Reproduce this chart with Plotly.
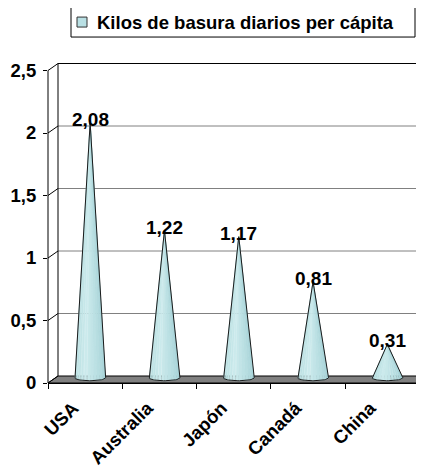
import numpy as np
import plotly.graph_objects as go

# ---------------- data ----------------
categories = ["USA", "Australia", "Japón", "Canadá", "China"]
kilos = [2.08, 1.22, 1.17, 0.81, 0.31]
y_tick_values = [0, 0.5, 1, 1.5, 2, 2.5]
y_tick_labels = ["0", "0,5", "1", "1,5", "2", "2,5"]
series_name = "Kilos de basura diarios per cápita"

# ---------------- layout constants ----------------
# the page body has an 8px margin, so the figure is placed at (8, 8)
OFF = 8
W, H = 424 - OFF, 468 - OFF
ML, MR, MT, MB = 48 - OFF, 0, 58 - OFF, 468 - 383.5
X_RANGE = [-0.5, 4.5606]
Y_RANGE = [0, 2.6]
plot_w = W - ML - MR
plot_h = H - MT - MB
px_x = plot_w / (X_RANGE[1] - X_RANGE[0])
px_y = plot_h / (Y_RANGE[1] - Y_RANGE[0])

DX = 10 / px_x          # depth of the 3D box (horizontal)
DY = 7 / px_y           # depth of the 3D box (vertical)
CONE_W = 15.5 / px_x    # half width of cone base
RY = 3 / px_y           # half height of base ellipse
BC = 5.25 / px_y        # base ellipse centre height

FONT = "Liberation Sans, Arial, sans-serif"
CONE_EDGE = (160, 207, 212)
CONE_LIGHT = (204, 235, 237)


def px2paper_x(p):
    # p in reference-page pixels
    return (p - OFF - ML) / plot_w


def px2paper_y(p):
    return (H - MB - (p - OFF)) / plot_h


fig = go.Figure()

# ---------------- cones (sliced for shading) ----------------
K = 14
for k in range(K):
    xs, ys = [], []
    for i, v in enumerate(kilos):
        cx = i + DX / 2
        t0 = np.pi + k * np.pi / K
        t1 = np.pi + (k + 1) * np.pi / K
        ts = np.linspace(t0, t1, 6)
        xs += [cx]
        ys += [v]
        xs += list(cx + CONE_W * np.cos(ts))
        ys += list(BC + RY * np.sin(ts))
        xs += [cx, None]
        ys += [v, None]
    pos = (k + 0.5) / K
    f = max(0.0, 1 - abs(pos - 0.4) / 0.6)
    col = tuple(int(CONE_EDGE[j] + (CONE_LIGHT[j] - CONE_EDGE[j]) * f) for j in range(3))
    c = "rgb(%d,%d,%d)" % col
    fig.add_trace(go.Scatter(x=xs, y=ys, mode="lines", fill="toself",
                             fillcolor=c, line=dict(color=c, width=0.6),
                             hoverinfo="skip", showlegend=False))

# outline
ox, oy = [], []
for i, v in enumerate(kilos):
    cx = i + DX / 2
    ts = np.linspace(np.pi, 2 * np.pi, 30)
    ox += [cx]
    oy += [v]
    ox += list(cx + CONE_W * np.cos(ts))
    oy += list(BC + RY * np.sin(ts))
    ox += [cx, None]
    oy += [v, None]
fig.add_trace(go.Scatter(x=ox, y=oy, mode="lines",
                         line=dict(color="#1a1a1a", width=1),
                         hoverinfo="skip", showlegend=False))

# ---------------- 3D box: floor, walls, gridlines ----------------
shapes = []
x_left = X_RANGE[0]
x_right = X_RANGE[1]
shapes.append(dict(type="path", xref="x", yref="y", layer="below",
                   path="M %f,%f L %f,%f L %f,%f L %f,%f Z" % (
                       x_left, 0, x_left + DX, DY, x_right, DY, x_right, 0),
                   fillcolor="#808080", line=dict(color="black", width=1)))
for v in y_tick_values[1:-1]:
    shapes.append(dict(type="line", xref="x", yref="y", layer="below",
                       x0=x_left + DX, x1=x_right, y0=v + DY, y1=v + DY,
                       line=dict(color="#808080", width=1)))
top = y_tick_values[-1]
shapes.append(dict(type="line", xref="x", yref="y", layer="below",
                   x0=x_left + DX, x1=x_right, y0=top + DY, y1=top + DY,
                   line=dict(color="black", width=1)))
shapes.append(dict(type="line", xref="x", yref="y", layer="below",
                   x0=x_left + DX, x1=x_left + DX, y0=DY, y1=top + DY,
                   line=dict(color="black", width=1)))
for v in y_tick_values:
    shapes.append(dict(type="line", xref="x", yref="y", layer="below",
                       x0=x_left, x1=x_left + DX, y0=v, y1=v + DY,
                       line=dict(color="black", width=1)))
# front value axis
shapes.append(dict(type="line", xref="paper", yref="y", layer="above",
                   x0=0, x1=0, y0=0, y1=top,
                   line=dict(color="black", width=1)))

# ---------------- legend (drawn) ----------------
shapes.append(dict(type="rect", xref="paper", yref="paper",
                   x0=px2paper_x(71), x1=px2paper_x(415),
                   y0=px2paper_y(37), y1=px2paper_y(7),
                   line=dict(color="black", width=1), fillcolor="white"))
shapes.append(dict(type="rect", xref="paper", yref="paper",
                   x0=px2paper_x(77), x1=px2paper_x(87),
                   y0=px2paper_y(27), y1=px2paper_y(17),
                   line=dict(color="#333333", width=1),
                   fillcolor="rgb(185,224,228)"))
annotations = [dict(xref="paper", yref="paper", x=px2paper_x(95),
                    y=px2paper_y(22), xanchor="left", yanchor="middle",
                    showarrow=False, text=series_name,
                    font=dict(family=FONT, size=18.5, color="black",
                              weight="bold"))]

# data labels
for i, v in enumerate(kilos):
    annotations.append(dict(
        xref="x", yref="y", x=i + DX / 2, y=v, xanchor="center",
        yanchor="bottom", yshift=-9, showarrow=False,
        text=("%.2f" % v).replace(".", ","),
        font=dict(family=FONT, size=19, color="black", weight="bold")))

fig.update_layout(
    width=W, height=H,
    margin=dict(l=ML, r=MR, t=MT, b=MB, pad=0, autoexpand=False),
    paper_bgcolor="white", plot_bgcolor="white",
    showlegend=False,
    shapes=shapes, annotations=annotations,
    xaxis=dict(range=X_RANGE, tickmode="array", automargin=False,
               tickvals=list(range(len(categories))), ticktext=categories,
               tickangle=-45, ticks="", showline=True, linecolor="black",
               linewidth=1, showgrid=False, zeroline=False,
               ticklabelshift=-12, ticklabelstandoff=6,
               tickfont=dict(family=FONT, size=18.5, color="black",
                             weight="bold"),
               minor=dict(tickmode="array",
                          tickvals=[i - 0.5 for i in range(len(categories) + 1)],
                          ticks="outside", ticklen=5, tickcolor="black",
                          tickwidth=1, showgrid=False),
               fixedrange=True),
    yaxis=dict(range=Y_RANGE, tickmode="array", automargin=False,
               tickvals=y_tick_values,
               ticktext=y_tick_labels, ticks="outside", ticklen=4,
               tickcolor="black", tickwidth=1, showline=False,
               showgrid=False, zeroline=False, ticklabelstandoff=3,
               tickfont=dict(family=FONT, size=18.5, color="black",
                             weight="bold"),
               fixedrange=True),
)

fig.write_html("out.html")
